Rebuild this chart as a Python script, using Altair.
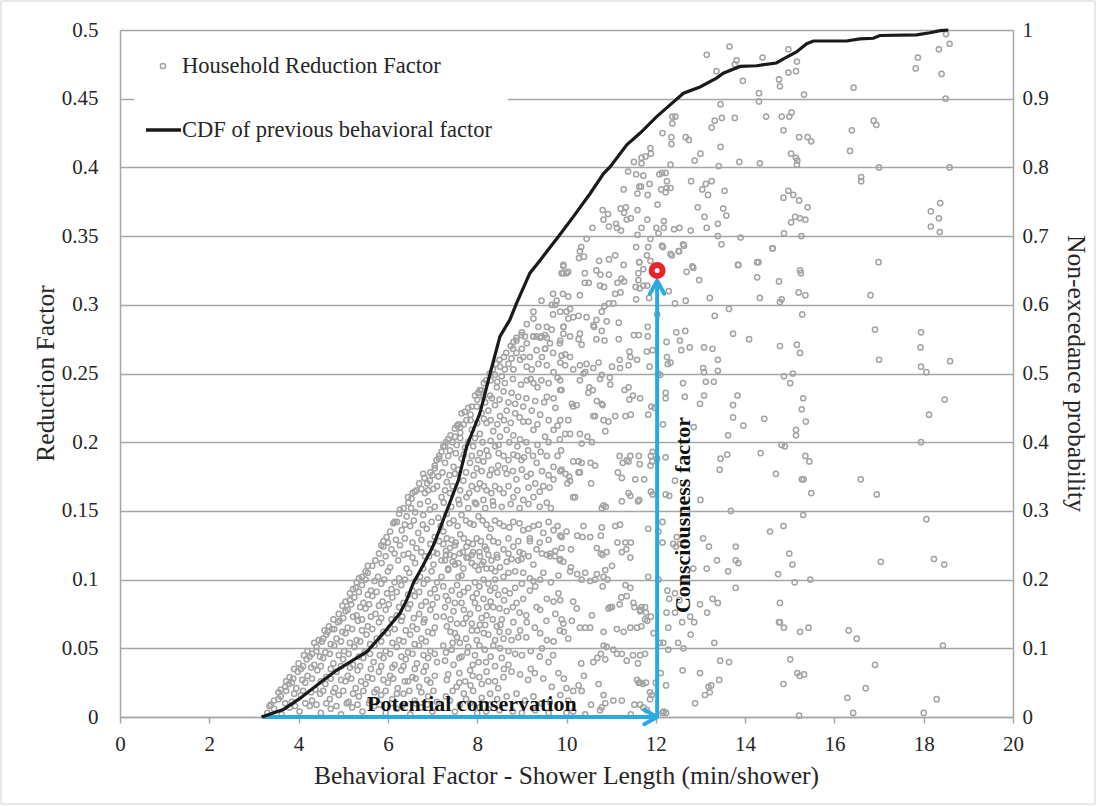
import altair as alt
import pandas as pd

# ---------------- CDF of previous behavioral factor (right axis) ----------------
cdf_x = [3.17, 3.66, 4.03, 4.48, 4.85, 5.23, 5.53, 5.9, 6.27, 6.42, 6.57, 6.79, 7.02, 7.24,
         7.47, 7.58, 7.76, 8.06, 8.29, 8.51, 8.73, 8.88, 9.18, 9.41, 9.85, 10.15, 10.53,
         10.83, 10.98, 11.35, 11.65, 12.02, 12.32, 12.62, 12.99, 13.36, 13.51, 13.89, 14.26,
         14.7, 14.86, 15.15, 15.38, 15.53, 16.27, 16.57, 16.87, 17.02, 17.84, 18.14, 18.37, 18.55]
cdf_p = [0, 0.011, 0.027, 0.05, 0.068, 0.083, 0.095, 0.122, 0.151, 0.17, 0.195, 0.221, 0.25,
         0.287, 0.326, 0.345, 0.393, 0.442, 0.5, 0.554, 0.578, 0.602, 0.646, 0.665, 0.702,
         0.728, 0.762, 0.791, 0.801, 0.833, 0.85, 0.874, 0.891, 0.908, 0.917, 0.93, 0.937,
         0.947, 0.948, 0.952, 0.958, 0.968, 0.98, 0.984, 0.984, 0.987, 0.988, 0.992, 0.993,
         0.996, 0.999, 1.0]

# ---------------- Household reduction factor (x = shower length, y = reduction) ----------------
pts_low_left = [
    (3.3,0.003),(3.45,0.006),(3.62,0.002),(3.8,0.007),(4.02,0.004),(4.25,0.008),(4.5,0.003),(4.72,0.006),
    (4.95,0.002),(5.2,0.007),(5.43,0.004),(5.7,0.008),(5.95,0.003),(6.2,0.006),(6.5,0.002),(6.75,0.007),(7.0,0.004),
    (3.45,0.012),(3.6,0.015),(3.85,0.011),(4.05,0.016),(4.3,0.012),(4.48,0.017),(4.7,0.013),(4.9,0.016),
    (5.12,0.011),(5.35,0.015),(5.6,0.012),(5.85,0.016),(6.1,0.013),(6.35,0.017),(6.6,0.012),(6.9,0.015),(7.1,0.011),
    (3.6,0.02),(3.78,0.024),(3.95,0.021),(4.15,0.025),(4.38,0.02),(4.6,0.024),(4.82,0.021),(5.05,0.026),
    (5.28,0.021),(5.5,0.024),(5.75,0.02),(6.0,0.025),(6.22,0.021),(6.45,0.026),(6.7,0.022),(6.95,0.025),
    (3.8,0.029),(3.98,0.033),(4.2,0.03),(4.42,0.034),(4.62,0.029),(4.85,0.033),(5.1,0.03),(5.32,0.034),
    (5.55,0.029),(5.8,0.033),(6.05,0.03),(6.3,0.034),(6.55,0.029),(6.8,0.033),(7.05,0.03),
    (4.0,0.039),(4.18,0.042),(4.35,0.038),(4.55,0.043),(4.78,0.039),(5.0,0.042),(5.22,0.038),(5.45,0.043),
    (5.68,0.04),(5.9,0.043),(6.15,0.038),(6.4,0.042),(6.65,0.039),(6.9,0.043),(7.1,0.04),
    (4.2,0.048),(4.4,0.051),(4.6,0.047),(4.8,0.052),(5.02,0.048),(5.25,0.051),(5.48,0.047),(5.7,0.052),
    (5.95,0.048),(6.2,0.051),(6.45,0.047),(6.7,0.052),(6.95,0.048),
    (4.45,0.056),(4.62,0.06),(4.85,0.057),(5.05,0.061),(5.3,0.056),(5.52,0.06),(5.75,0.057),(6.0,0.061),
    (6.25,0.056),(6.5,0.06),(6.75,0.057),(7.0,0.061),
    (4.68,0.066),(4.88,0.069),(5.1,0.065),(5.33,0.07),(5.55,0.066),(5.8,0.069),(6.05,0.065),(6.3,0.07),
    (6.55,0.066),(6.8,0.069),(7.05,0.065),
    (4.9,0.075),(5.1,0.078),(5.3,0.074),(5.5,0.079),(5.72,0.075),(5.95,0.078),(6.2,0.074),(6.45,0.079),
    (6.7,0.075),(6.95,0.078),
    (5.05,0.084),(5.25,0.087),(5.45,0.083),(5.65,0.088),(5.88,0.084),(6.1,0.087),(6.35,0.083),(6.6,0.088),
    (6.85,0.084),(7.1,0.087),
    (5.22,0.093),(5.42,0.096),(5.62,0.092),(5.85,0.097),(6.08,0.093),(6.3,0.096),(6.55,0.092),(6.8,0.097),(7.05,0.093),
    (5.35,0.101),(5.55,0.105),(5.78,0.102),(6.0,0.106),(6.25,0.101),(6.48,0.105),(6.72,0.102),(6.98,0.106),
    (5.55,0.11),(5.72,0.114),(5.8,0.119),(5.85,0.125),
]

pts_low_left_fill = [
    (3.38,0.009),(3.7,0.01),(3.92,0.008),(4.15,0.01),(4.4,0.009),(4.62,0.01),(4.85,0.008),(5.08,0.01),
    (5.32,0.009),(5.58,0.01),(5.82,0.009),(6.08,0.01),(6.32,0.008),(6.62,0.01),(6.88,0.009),
    (3.55,0.018),(3.72,0.019),(3.9,0.017),(4.1,0.019),(4.28,0.018),(4.55,0.019),(4.78,0.018),(5.0,0.019),
    (5.22,0.017),(5.45,0.019),(5.7,0.018),(5.95,0.019),(6.2,0.017),(6.48,0.019),(6.75,0.018),(7.02,0.019),
    (3.72,0.026),(3.88,0.028),(4.08,0.027),(4.3,0.028),(4.5,0.026),(4.72,0.028),(4.95,0.027),(5.18,0.028),
    (5.4,0.026),(5.65,0.028),(5.9,0.027),(6.12,0.028),(6.38,0.026),(6.62,0.028),(6.88,0.027),
    (3.9,0.035),(4.1,0.037),(4.28,0.036),(4.5,0.037),(4.72,0.035),(4.95,0.037),(5.15,0.036),(5.38,0.037),
    (5.62,0.035),(5.85,0.037),(6.1,0.036),(6.35,0.037),(6.6,0.035),(6.85,0.037),
    (4.12,0.045),(4.3,0.046),(4.48,0.044),(4.7,0.046),(4.9,0.045),(5.12,0.046),(5.35,0.044),(5.6,0.046),
    (5.82,0.045),(6.05,0.046),(6.3,0.044),(6.55,0.046),(6.8,0.045),(7.05,0.046),
    (4.35,0.054),(4.52,0.055),(4.72,0.053),(4.95,0.055),(5.15,0.054),(5.38,0.055),(5.6,0.053),(5.85,0.055),
    (6.1,0.054),(6.35,0.055),(6.6,0.053),(6.85,0.055),
    (4.58,0.063),(4.75,0.064),(4.98,0.062),(5.2,0.064),(5.42,0.063),(5.65,0.064),(5.9,0.062),(6.15,0.064),
    (6.4,0.063),(6.65,0.064),(6.9,0.062),
    (4.78,0.071),(5.0,0.072),(5.22,0.073),(5.42,0.071),(5.62,0.073),(5.85,0.072),(6.08,0.071),(6.32,0.073),
    (6.58,0.072),(6.82,0.071),(7.08,0.073),
    (4.98,0.081),(5.18,0.082),(5.38,0.08),(5.58,0.082),(5.8,0.081),(6.02,0.082),(6.25,0.08),(6.5,0.082),
    (6.75,0.081),(7.0,0.082),
    (5.15,0.09),(5.35,0.091),(5.55,0.089),(5.75,0.091),(5.98,0.09),(6.2,0.091),(6.45,0.089),(6.7,0.091),(6.95,0.09),
    (5.3,0.098),(5.5,0.1),(5.7,0.099),(5.92,0.1),(6.15,0.098),(6.38,0.1),(6.62,0.099),(6.88,0.1),(7.1,0.098),
    (3.35,0.008),(3.55,0.013),(3.7,0.022),(3.85,0.025),(4.05,0.035),(4.25,0.044),(4.4,0.048),(4.55,0.057),
    (4.65,0.062),(4.8,0.064),(4.92,0.07),(5.05,0.077),(5.15,0.085),(5.28,0.094),(5.42,0.102),(5.5,0.106),
    (5.65,0.11),(5.9,0.128),(6.05,0.135),(6.15,0.142),(6.25,0.148),
]

pts_mid_upper = [
    (8.88,0.274),(8.99,0.278),(9.11,0.272),(9.26,0.277),(9.41,0.276),(9.52,0.278),(9.63,0.272),(9.52,0.268),
    (9.85,0.272),(8.88,0.265),(8.77,0.261),(8.7,0.257),(8.96,0.26),(9.11,0.255),(9.22,0.253),(9.37,0.257),
    (9.56,0.256),(9.71,0.251),(9.89,0.263),(8.51,0.255),(8.62,0.253),(8.81,0.253),(9.03,0.262),(9.33,0.267),
    (8.4,0.249),(8.55,0.248),
    (8.06,0.238),(8.14,0.233),(8.29,0.234),(8.44,0.24),(8.59,0.237),(8.77,0.236),(8.92,0.233),(9.11,0.245),
    (9.26,0.243),(9.44,0.245),(9.56,0.233),(9.71,0.232),(9.89,0.238),(7.99,0.226),(8.1,0.221),(8.25,0.223),
    (8.4,0.227),(8.51,0.219),(8.66,0.223),(8.85,0.221),(9.03,0.226),(9.22,0.223),(9.41,0.22),(9.03,0.215),
    (9.26,0.209),(9.52,0.204),(9.71,0.209),(9.85,0.202),(7.65,0.221),(7.76,0.216),(7.62,0.211),(7.88,0.209),
    (8.06,0.206),(8.21,0.214),(8.36,0.208),(8.51,0.204),(8.66,0.209),(8.81,0.205),(7.5,0.204),(7.35,0.202),(8.96,0.202),
    (7.24,0.197),(7.39,0.194),(7.54,0.198),(7.73,0.196),(7.91,0.197),(8.06,0.192),(8.21,0.194),(8.4,0.197),
    (8.59,0.19),(8.81,0.191),(8.99,0.187),(9.14,0.194),(9.33,0.185),(9.56,0.19),(9.71,0.182),(9.89,0.18),
    (7.09,0.187),(7.28,0.185),(7.47,0.182),(7.65,0.188),(7.84,0.185),(7.99,0.181),(8.14,0.186),(8.32,0.18),
    (8.47,0.183),(8.66,0.177),(8.88,0.173),(9.11,0.175),(9.3,0.17),(9.48,0.168),(9.71,0.173),
    (6.79,0.177),(6.94,0.172),(7.13,0.175),(7.32,0.171),(7.5,0.177),(7.69,0.172),(7.88,0.168),(8.06,0.17),
    (8.21,0.165),(8.4,0.168),(8.59,0.163),(8.81,0.16),(9.03,0.158),(9.26,0.16),(9.56,0.156),
    (6.64,0.165),(6.83,0.163),(7.02,0.166),(7.2,0.16),(7.39,0.163),(7.58,0.158),(7.76,0.16),(7.95,0.156),
    (8.14,0.158),(8.36,0.154),(6.53,0.159),(6.46,0.156),
    (6.27,0.151),(6.42,0.146),(6.61,0.149),(6.79,0.147),(6.94,0.151),(7.13,0.145),(7.32,0.148),(7.47,0.143),
    (7.65,0.147),(7.84,0.141),(8.03,0.146),(8.21,0.14),(8.4,0.143),(8.59,0.139),(8.81,0.142),(9.03,0.136),
    (9.26,0.139),(9.48,0.134),(9.71,0.136),(9.89,0.131),(6.12,0.141),(6.31,0.136),(6.5,0.139),(6.68,0.134),
    (6.87,0.137),(7.05,0.131),(7.24,0.135),(7.43,0.129),(7.62,0.133),(7.8,0.127),(7.99,0.13),(8.17,0.124),
    (8.36,0.128),(8.59,0.122),(8.81,0.124),(9.03,0.119),(9.33,0.122),(9.63,0.117),(5.97,0.131),(5.9,0.124),
    (6.08,0.122),(6.27,0.125),(6.46,0.119),(6.64,0.123),(6.83,0.117),(7.02,0.12),(7.2,0.114),(7.39,0.118),
    (7.58,0.112),(7.76,0.116),(7.95,0.11),(8.14,0.113),(8.32,0.108),(5.86,0.112),(6.05,0.109),(6.23,0.114),
    (6.42,0.108),(6.61,0.112),(6.79,0.108),(7.02,0.111),(7.35,0.108),
]

pts_mid_upper_fill = [
    (5.95,0.117),(6.15,0.119),(6.35,0.118),(6.55,0.116),(6.75,0.12),(6.92,0.117),(7.1,0.119),(7.3,0.121),
    (7.48,0.117),(7.68,0.12),(7.88,0.118),(8.05,0.12),(8.25,0.118),(8.45,0.116),(8.7,0.119),(8.95,0.12),
    (9.15,0.117),(9.45,0.119),(9.75,0.121),
    (6.0,0.127),(6.18,0.129),(6.38,0.13),(6.55,0.127),(6.75,0.129),(6.95,0.126),(7.15,0.128),(7.32,0.13),
    (7.52,0.127),(7.7,0.13),(7.9,0.126),(8.08,0.128),(8.27,0.131),(8.47,0.127),(8.7,0.13),(8.92,0.128),
    (9.18,0.13),(9.4,0.127),(9.6,0.129),
    (6.2,0.142),(6.38,0.14),(6.58,0.143),(6.78,0.14),(6.98,0.142),(7.18,0.139),(7.38,0.141),(7.56,0.139),
    (7.75,0.143),(7.92,0.14),(8.12,0.143),(8.3,0.137),(8.5,0.141),(8.72,0.138),(8.95,0.141),(9.15,0.137),
    (9.38,0.14),(9.6,0.142),(9.8,0.139),
    (6.35,0.152),(6.52,0.152),(6.72,0.155),(6.9,0.157),(7.05,0.153),(7.25,0.156),(7.42,0.153),(7.6,0.155),
    (7.8,0.152),(7.98,0.155),(8.18,0.152),(8.35,0.157),(8.55,0.153),(8.75,0.155),(8.95,0.152),(9.15,0.155),
    (9.4,0.153),(9.65,0.152),
    (6.6,0.164),(6.75,0.166),(6.9,0.165),(7.1,0.168),(7.28,0.165),(7.45,0.168),(7.62,0.165),(7.82,0.163),
    (8.0,0.166),(8.15,0.168),(8.32,0.163),(8.5,0.166),(8.7,0.168),(8.9,0.165),(9.15,0.167),(9.4,0.164),(9.62,0.167),
    (6.95,0.178),(7.05,0.181),(7.22,0.178),(7.38,0.176),(7.58,0.18),(7.75,0.178),(7.92,0.176),(8.1,0.179),
    (8.28,0.176),(8.45,0.178),(8.62,0.181),(8.8,0.179),(9.0,0.18),(9.2,0.177),(9.45,0.179),(9.6,0.176),
    (7.15,0.19),(7.35,0.19),(7.52,0.192),(7.7,0.191),(7.88,0.19),(8.02,0.187),(8.25,0.19),(8.48,0.192),
    (8.7,0.187),(8.9,0.19),(9.05,0.189),(9.25,0.19),(9.42,0.193),(9.8,0.19),
    (7.3,0.2),(7.45,0.2),(7.62,0.203),(7.8,0.2),(7.95,0.203),(8.12,0.2),(8.3,0.201),(8.48,0.198),(8.72,0.2),
    (8.9,0.197),(9.1,0.2),(9.35,0.198),(9.6,0.2),
    (7.55,0.212),(7.7,0.213),(7.85,0.216),(8.0,0.214),(8.15,0.217),(8.3,0.216),(8.45,0.213),(8.6,0.216),
    (8.75,0.214),(8.95,0.218),(9.15,0.215),(9.35,0.213),(9.6,0.216),(9.8,0.212),
    (7.88,0.226),(8.0,0.231),(8.18,0.229),(8.33,0.232),(8.5,0.231),(8.7,0.229),(8.85,0.228),(9.1,0.232),
    (9.3,0.23),(9.5,0.229),(9.75,0.225),
    (8.15,0.243),(8.3,0.245),(8.45,0.244),(8.62,0.243),(8.8,0.246),(8.98,0.242),(9.2,0.246),(9.35,0.24),
    (9.6,0.243),(9.8,0.247),
    (8.6,0.262),(8.8,0.268),(9.0,0.268),(9.18,0.262),(9.45,0.262),(9.7,0.265),
    (6.45,0.16),(6.55,0.163),(6.7,0.17),(6.82,0.174),(6.88,0.17),(7.0,0.176),(7.05,0.183),(7.15,0.188),
    (7.2,0.193),(7.28,0.197),(7.4,0.205),(7.5,0.21),(7.58,0.213),(7.62,0.207),(7.72,0.222),(7.8,0.225),
    (7.85,0.22),(7.95,0.234),(8.02,0.236),(8.1,0.238),(8.2,0.245),(8.28,0.25),(8.35,0.253),(8.42,0.257),
    (8.5,0.26),(8.65,0.265),(8.75,0.27),
]

pts_ridge = [
    (9.93,0.329),(9.89,0.323),(10.0,0.323),(9.7,0.308),(9.78,0.303),(9.75,0.3),(9.44,0.303),(9.67,0.3),
    (9.26,0.295),(9.26,0.29),(9.37,0.284),(9.56,0.284),(9.67,0.282),(9.7,0.293),(9.93,0.284),(9.93,0.279),
    (10.04,0.29),(9.11,0.286),(9.0,0.28),(8.88,0.276),(8.81,0.273),(9.07,0.277),(9.26,0.277),(9.33,0.277),
    (9.44,0.277),(9.56,0.276),(9.52,0.268),
]

pts_mid_lower = [
    (7.24,0.126),(7.39,0.123),(7.5,0.125),(7.61,0.119),(7.76,0.124),(7.91,0.12),(8.06,0.117),(8.21,0.122),
    (8.32,0.114),(8.44,0.118),(8.51,0.109),(8.66,0.113),(8.77,0.115),(8.92,0.114),(8.99,0.115),(8.85,0.106),
    (8.7,0.105),(8.59,0.102),(8.4,0.106),(8.21,0.108),(8.03,0.107),(7.88,0.112),(7.69,0.108),(7.5,0.111),
    (7.35,0.107),(7.28,0.114),(7.2,0.102),(7.58,0.102),(8.14,0.1),(9.26,0.111),(9.18,0.128),(9.56,0.118),
    (9.63,0.119),(9.74,0.117),(9.85,0.114),(9.82,0.103),(9.41,0.1),(9.48,0.105),(9.18,0.101),(9.03,0.105),(9.26,0.099),
    (7.24,0.095),(7.43,0.092),(7.61,0.089),(7.8,0.094),(7.99,0.09),(8.14,0.086),(8.29,0.092),(8.47,0.089),
    (8.62,0.092),(8.73,0.09),(8.88,0.083),(9.03,0.086),(9.18,0.092),(9.33,0.08),(9.41,0.078),(9.56,0.086),
    (9.71,0.084),(9.82,0.09),(7.28,0.08),(7.47,0.077),(7.65,0.083),(7.84,0.075),(8.03,0.079),(8.21,0.074),
    (8.36,0.08),(8.55,0.071),(8.66,0.077),(8.81,0.069),(8.96,0.063),(9.11,0.069),(9.29,0.065),(9.41,0.061),
    (9.56,0.056),(9.71,0.055),(9.85,0.063),(7.32,0.066),(7.5,0.061),(7.69,0.068),(7.88,0.063),(8.06,0.067),
    (8.25,0.06),(8.44,0.066),(8.59,0.057),(8.77,0.056),(8.92,0.058),(7.24,0.052),(7.43,0.049),(7.61,0.054),
    (7.8,0.051),(7.99,0.056),(8.17,0.049),(8.36,0.052),(8.51,0.05),(8.7,0.048),
    (7.28,0.041),(7.47,0.038),(7.65,0.044),(7.84,0.034),(8.03,0.04),(8.21,0.033),(8.4,0.037),(8.59,0.029),
    (8.77,0.033),(8.96,0.031),(9.14,0.027),(9.29,0.032),(9.48,0.028),(9.67,0.022),(9.82,0.032),(7.32,0.027),
    (7.54,0.022),(7.73,0.026),(7.91,0.019),(8.1,0.024),(8.29,0.017),(8.47,0.021),(8.66,0.015),(8.88,0.017),
    (9.07,0.012),(9.26,0.015),(9.44,0.01),(9.63,0.011),(7.39,0.012),(7.61,0.009),(7.84,0.01),(8.06,0.007),(8.29,0.009),
    (7.3,0.118),(7.45,0.113),(7.65,0.103),(7.8,0.116),(7.95,0.098),(8.1,0.111),(8.25,0.097),(8.4,0.1),
    (7.35,0.085),(7.55,0.096),(7.7,0.078),(7.95,0.083),(8.1,0.072),(8.3,0.084),(8.5,0.079),(7.4,0.071),
    (7.55,0.058),(7.75,0.057),(7.95,0.045),(8.15,0.061),(8.3,0.044),(8.5,0.062),(7.35,0.031),(7.6,0.032),
    (7.85,0.023),(8.05,0.029),(8.4,0.026),(7.5,0.004),(7.7,0.017),(8.0,0.003),(8.2,0.004),(8.5,0.005),
    (8.8,0.004),(9.0,0.003),(9.3,0.005),(9.6,0.003),(8.7,0.038),(8.85,0.046),(9.0,0.045),(9.2,0.048),
    (9.4,0.044),(9.6,0.04),(9.1,0.074),(9.3,0.095),(9.55,0.07),(9.65,0.098),(9.75,0.075),(9.0,0.097),(8.85,0.094),
    (7.3,0.015),(7.45,0.019),(7.6,0.025),(7.75,0.013),(7.9,0.03),(8.1,0.014),(8.25,0.026),(8.45,0.013),
    (8.6,0.035),(7.3,0.047),(7.45,0.054),(7.6,0.043),(7.78,0.047),(7.9,0.038),(8.05,0.052),(8.2,0.04),
    (8.4,0.056),(8.55,0.043),(7.25,0.073),(7.4,0.062),(7.55,0.068),(7.75,0.072),(7.88,0.068),(8.0,0.063),
    (8.18,0.067),(8.35,0.071),(8.52,0.067),(8.7,0.062),(7.3,0.088),(7.5,0.083),(7.7,0.091),(7.9,0.087),
    (8.05,0.095),(8.22,0.08),(8.4,0.094),(8.6,0.085),(8.8,0.08),(8.95,0.076),(9.1,0.058),(9.2,0.035),
    (9.45,0.05),(9.7,0.045),
]

pts_right_center = [
    (10.41,0.323),(10.67,0.325),(10.76,0.322),(10.95,0.322),(10.41,0.316),(10.5,0.316),(10.75,0.314),(10.84,0.313),
    (11.14,0.316),(11.23,0.319),(11.29,0.317),(11.09,0.308),(11.21,0.309),(11.55,0.313),(11.64,0.312),(11.72,0.314),
    (11.81,0.314),(11.61,0.318),(11.61,0.323),(11.72,0.326),(11.63,0.331),(10.3,0.307),(11.56,0.304),(10.95,0.301),
    (11.05,0.301),(10.85,0.299),(10.79,0.295),(10.45,0.291),(10.67,0.289),(10.6,0.285),(10.62,0.284),(10.9,0.288),
    (11.17,0.287),(10.3,0.279),(10.79,0.281),(11.51,0.278),(11.62,0.278),(11.82,0.284),(11.17,0.275),(10.67,0.275),
    (10.85,0.274),(12.03,0.293),(12.29,0.31),(12.67,0.303),(11.85,0.305),(12.43,0.301),(12.69,0.324),(12.82,0.328),
    (12.97,0.318),(13.21,0.305),(13.32,0.292),(13.64,0.297),(13.84,0.329),(14.27,0.331),(14.27,0.32),(14.33,0.305),
    (14.61,0.341),(14.76,0.317),(12.46,0.28),(12.54,0.274),(12.66,0.281),(12.24,0.273),(11.82,0.277),(13.73,0.279),
    (14.09,0.275),(13.08,0.269),(13.27,0.268),(12.76,0.269),(12.33,0.337),(12.51,0.339),(12.61,0.344),(12.14,0.343),
    (11.88,0.348),(11.83,0.342),
    (9.93,0.328),(10.04,0.324),(9.93,0.323),(9.92,0.308),(10.04,0.306),(9.86,0.295),(10.0,0.295),(10.08,0.297),
    (9.93,0.284),(9.86,0.274),(10.08,0.277),(10.15,0.291),(10.27,0.292),(10.27,0.275),(10.34,0.271),
    (9.97,0.264),(9.86,0.258),(10.08,0.262),(9.97,0.256),(10.15,0.253),(10.3,0.256),(10.45,0.257),(10.6,0.254),
    (10.72,0.258),(11.02,0.255),(11.2,0.254),(11.39,0.256),(10.42,0.251),(10.38,0.25),(11.58,0.26),(11.8,0.266),
    (11.93,0.267),(11.86,0.255),(11.19,0.26),(11.41,0.266),(11.43,0.262),(12.57,0.267),(12.25,0.262),(12.33,0.258),
    (12.27,0.257),(12.1,0.249),(12.05,0.25),(13.39,0.26),(13.39,0.252),(13.06,0.254),(13.08,0.251),(13.12,0.244),
    (13.3,0.244),(12.61,0.243),(12.22,0.236),(12.22,0.232),(12.65,0.233),(13.08,0.234),(13.83,0.234),(12.99,0.228),
    (12.16,0.213),(12.85,0.211),(13.73,0.227),(13.73,0.218),(13.96,0.212),(13.62,0.205),(14.43,0.217),(14.35,0.192),
    (14.69,0.177),(13.45,0.188),(13.43,0.18),(13.6,0.191),(12.43,0.172),(13.0,0.158),(13.68,0.15),(12.22,0.189),
    (12.03,0.188),(11.89,0.19),(11.92,0.186),(11.88,0.183),(11.93,0.193),(11.43,0.19),(11.39,0.186),(11.62,0.19),
    (11.64,0.184),(11.19,0.19),(11.26,0.185),(11.35,0.187),(11.54,0.173),(11.24,0.174),(11.15,0.178),(11.74,0.173),
    (11.89,0.164),(11.93,0.162),(11.39,0.163),(11.43,0.161),(11.24,0.157),(11.6,0.157),(11.63,0.158),(10.83,0.154),
    (10.88,0.153),(10.79,0.152),(12.22,0.162),(12.3,0.161),(10.55,0.17),(10.15,0.186),(10.27,0.186),(10.34,0.185),
    (10.54,0.185),(10.64,0.183),(9.98,0.177),(10.06,0.175),(10.27,0.178),(10.3,0.178),(9.88,0.194),(10.02,0.17),
    (10.08,0.172),(10.15,0.16),(10.19,0.16),(9.86,0.216),(10.04,0.216),(10.08,0.206),(9.97,0.206),(10.34,0.199),
    (10.57,0.2),(10.47,0.204),(10.87,0.208),(10.94,0.215),(10.6,0.219),(10.64,0.219),(10.83,0.216),(11.32,0.219),
    (11.44,0.22),(10.68,0.23),(10.59,0.238),(10.49,0.236),(10.51,0.24),(10.12,0.228),(10.15,0.226),(10.23,0.227),
    (10.79,0.228),(10.81,0.227),(10.98,0.242),(11.3,0.238),(11.39,0.24),(11.49,0.234),(11.65,0.232),(11.41,0.231),
    (11.09,0.219),(11.9,0.226),(11.97,0.225),(11.83,0.22),(9.86,0.238),(9.86,0.245),(10.3,0.245),(10.3,0.206),
    (9.86,0.179),(10.97,0.247),(10.75,0.246),(10.79,0.249),
    (10.38,0.139),(10.79,0.138),(11.09,0.139),(11.2,0.14),(10.0,0.135),(9.86,0.132),(10.24,0.132),(10.36,0.131),
    (10.53,0.131),(10.77,0.132),(9.89,0.123),(10.1,0.122),(10.68,0.123),(10.77,0.119),(10.81,0.118),(10.9,0.12),
    (11.14,0.127),(11.32,0.127),(11.44,0.127),(11.34,0.122),(11.24,0.12),(11.43,0.116),(9.86,0.115),(9.93,0.113),
    (10.1,0.109),(10.08,0.106),(10.24,0.104),(10.42,0.105),(10.34,0.1),(10.53,0.099),(10.64,0.1),(10.83,0.102),
    (11.02,0.11),(10.87,0.107),(10.68,0.104),(10.92,0.1),(10.81,0.095),(10.94,0.079),(10.98,0.08),(11.02,0.08),
    (11.32,0.096),(11.43,0.094),(11.23,0.087),(11.35,0.088),(11.19,0.082),(11.5,0.083),(11.52,0.08),(11.65,0.078),
    (11.58,0.065),(11.43,0.065),(11.28,0.062),(11.13,0.064),(10.83,0.062),(10.53,0.065),(10.42,0.065),(10.3,0.065),
    (10.12,0.07),(9.93,0.068),(9.89,0.071),(10.04,0.057),(9.94,0.062),(10.23,0.079),(10.15,0.084),(9.86,0.085),
    (10.57,0.074),(10.9,0.051),(10.83,0.052),(11.05,0.049),(11.13,0.046),(11.24,0.046),(11.35,0.041),(11.49,0.045),
    (11.6,0.039),(10.33,0.039),(10.6,0.04),(10.69,0.043),(10.77,0.046),(10.87,0.042),(9.94,0.028),(10.0,0.021),
    (10.15,0.019),(10.27,0.023),(10.34,0.019),(10.39,0.03),(10.72,0.024),(10.83,0.016),(10.87,0.01),(10.75,0.005),
    (10.79,0.007),(11.05,0.012),(11.24,0.012),(11.44,0.002),(11.52,0.009),(10.42,0.002),(10.55,0.009),(10.04,0.012),
    (9.86,0.016),(11.58,0.027),(11.62,0.025),(10.0,0.003),(10.15,0.004),
    (11.83,0.137),(12.06,0.135),(12.15,0.142),(12.15,0.127),(12.47,0.131),(12.45,0.124),(12.54,0.126),(12.39,0.126),
    (13.06,0.13),(13.19,0.124),(13.79,0.124),(13.37,0.114),(13.14,0.108),(12.84,0.108),(13.62,0.106),(13.79,0.114),
    (13.85,0.112),(14.56,0.135),(14.74,0.104),(11.83,0.102),(12.06,0.1),(13.79,0.094),(12.26,0.092),(12.43,0.09),
    (12.3,0.086),(12.53,0.085),(12.99,0.082),(13.27,0.086),(13.15,0.076),(13.39,0.083),(12.24,0.076),(12.43,0.076),
    (12.59,0.069),(12.77,0.073),(12.86,0.069),(12.78,0.06),(12.28,0.065),(12.17,0.054),(12.09,0.054),(12.28,0.049),
    (12.5,0.054),(12.62,0.05),(13.31,0.054),(14.76,0.069),(11.68,0.066),(11.76,0.071),(11.89,0.073),(11.81,0.07),
    (11.95,0.061),(11.68,0.08),(11.76,0.08),(11.65,0.077),(11.78,0.076),(11.65,0.045),(11.76,0.046),(12.11,0.032),
    (12.23,0.023),(12.0,0.025),(11.65,0.025),(11.71,0.024),(11.78,0.025),(11.87,0.018),(11.91,0.016),(11.87,0.013),
    (11.65,0.009),(11.72,0.007),(11.8,0.005),(12.15,0.003),(12.23,0.003),(12.18,0.004),(12.6,0.034),(12.99,0.032),
    (13.44,0.041),(13.64,0.04),(13.42,0.027),(13.24,0.023),(13.18,0.022),(13.1,0.016),(13.21,0.018),(12.88,0.01),
]

pts_top = [
    (13.14,0.482),(13.65,0.488),(13.36,0.47),(13.81,0.478),(13.77,0.475),(13.95,0.463),(14.39,0.48),(14.76,0.464),
    (14.31,0.454),(14.31,0.448),(13.45,0.446),(13.25,0.429),(13.32,0.434),(13.48,0.436),(13.77,0.436),(14.47,0.437),
    (12.37,0.437),(12.44,0.437),(12.37,0.432),(12.15,0.425),(12.35,0.422),(12.35,0.417),(12.67,0.422),(12.74,0.42),
    (11.88,0.414),(11.89,0.41),(11.77,0.408),(11.68,0.407),(11.68,0.403),(11.51,0.404),(12.33,0.402),(13.45,0.415),
    (13.0,0.41),(12.87,0.405),(13.87,0.404),(14.33,0.403),(13.41,0.401),(11.38,0.397),(11.56,0.395),(11.72,0.394),
    (12.08,0.395),(12.14,0.396),(12.22,0.396),(12.25,0.39),(11.63,0.386),(11.67,0.386),(11.86,0.388),(11.28,0.384),
    (11.59,0.381),(11.82,0.38),(12.12,0.384),(12.24,0.385),(12.33,0.385),(12.22,0.382),(12.04,0.373),(12.79,0.39),
    (13.04,0.384),(13.12,0.388),(13.17,0.38),(13.25,0.39),(13.54,0.383),(10.81,0.369),(10.83,0.362),(10.93,0.366),
    (11.21,0.37),(11.29,0.367),(11.33,0.371),(11.59,0.369),(11.35,0.362),(11.44,0.363),(11.81,0.362),(10.58,0.356),
    (10.95,0.357),(11.11,0.359),(11.13,0.356),(11.22,0.354),(11.68,0.356),(11.59,0.351),(12.01,0.356),(12.06,0.352),
    (12.18,0.361),(12.18,0.356),(12.41,0.355),(12.53,0.356),(12.78,0.354),(12.94,0.371),(13.09,0.364),(13.14,0.356),
    (13.39,0.359),(13.51,0.37),(13.58,0.365),(13.39,0.35),(13.47,0.344),(13.9,0.349),(14.62,0.341),(10.45,0.348),
    (10.3,0.339),(10.33,0.342),(10.28,0.334),(10.39,0.335),(10.73,0.332),(10.95,0.333),(11.09,0.336),(11.28,0.329),
    (11.56,0.342),(11.63,0.331),(11.8,0.336),(11.88,0.332),(12.16,0.342),(12.36,0.336),(12.52,0.339),(12.63,0.343),
    (12.84,0.327),(13.85,0.329),(14.3,0.331),
]

pts_far_right = [
    (14.97,0.486),(15.16,0.477),(14.97,0.469),(15.14,0.47),(14.78,0.459),(15.32,0.453),(16.43,0.458),(17.87,0.48),
    (17.82,0.472),(18.34,0.486),(18.58,0.49),(18.4,0.468),(18.5,0.497),(18.49,0.45),(14.82,0.437),(14.99,0.437),
    (15.04,0.44),(14.86,0.427),(15.21,0.422),(15.4,0.422),(15.48,0.419),(15.03,0.41),(15.14,0.407),(15.17,0.405),
    (15.16,0.402),(16.39,0.427),(16.35,0.412),(16.88,0.434),(16.94,0.431),(17.0,0.4),(18.58,0.4),(16.6,0.393),
    (16.6,0.39),(14.97,0.383),(14.86,0.378),(15.08,0.38),(15.21,0.376),(15.4,0.371),(15.03,0.36),(15.12,0.364),
    (15.23,0.363),(15.35,0.362),(14.87,0.352),(15.26,0.35),(18.37,0.374),(18.16,0.368),(18.34,0.363),(18.16,0.357),
    (18.36,0.353),(16.99,0.331),(15.23,0.325),(15.25,0.323),(15.2,0.309),(15.35,0.307),(16.81,0.307),(14.82,0.304),
    (14.78,0.302),(15.28,0.293),(16.91,0.282),(17.94,0.28),(17.93,0.269),(17.0,0.26),(18.59,0.259),(17.94,0.255),
    (18.06,0.251),(14.78,0.27),(15.16,0.271),(15.23,0.265),(14.87,0.248),(15.07,0.25),(15.01,0.243),(15.3,0.232),
    (15.27,0.224),(15.36,0.215),(15.14,0.209),(15.14,0.205),(18.47,0.231),(18.12,0.22),(17.94,0.2),(14.82,0.198),
    (14.89,0.197),(15.35,0.19),(15.44,0.186),(15.27,0.173),(15.31,0.173),(15.48,0.163),(16.59,0.173),(16.95,0.162),
    (15.3,0.147),(14.86,0.139),(18.06,0.144),(14.99,0.119),(15.06,0.111),(17.04,0.113),(18.23,0.115),(18.46,0.111),
    (15.11,0.098),(15.46,0.1),(14.78,0.083),(14.78,0.069),(14.87,0.065),(15.23,0.062),(15.42,0.065),(16.32,0.063),
    (16.5,0.057),(18.43,0.052),(15.01,0.042),(15.17,0.032),(15.22,0.03),(15.32,0.031),(14.86,0.024),(16.91,0.038),
    (16.7,0.021),(16.29,0.014),(18.29,0.013),(16.42,0.003),(18.0,0.003),(15.21,0.001),
]

all_pts = (pts_low_left + pts_low_left_fill + pts_mid_upper + pts_mid_upper_fill + pts_ridge
           + pts_mid_lower + pts_right_center + pts_top + pts_far_right)
hh = pd.DataFrame(all_pts, columns=["x", "y"])
cdf = pd.DataFrame({"x": cdf_x, "p": cdf_p})

# Highlighted household and arrows
sel_x, sel_y = 12.03, 0.325
arrow_start_x = 3.2
arrow_tip_y = 0.3175

# ---------------- styles ----------------
FONT = "Liberation Serif"
GRID = "#a6a6a6"
TXT = "#262626"
BLUE = "#29abe2"
RED = "#e8232b"
PT = "#a3a3a3"

W, H = 893, 687
xscale = alt.Scale(domain=[0, 20], nice=False)
yscale = alt.Scale(domain=[0, 0.5], nice=False)
pscale = alt.Scale(domain=[0, 1], nice=False)

xaxis = alt.Axis(values=[0, 2, 4, 6, 8, 10, 12, 14, 16, 18, 20], grid=False, labelFlush=False,
                 title="Behavioral Factor - Shower Length (min/shower)",
                 tickSize=6, tickColor=GRID, tickWidth=1.5, labelPadding=10,
                 titleX=446, titleY=58, titleBaseline="middle", titleAlign="center")
yaxis = alt.Axis(values=[0, 0.05, 0.1, 0.15, 0.2, 0.25, 0.3, 0.35, 0.4, 0.45, 0.5], labelFlush=False,
                 format=".2~f", grid=True, ticks=False, tickSize=0, labelPadding=22,
                 title="Reduction Factor", titleAngle=270, titleX=-75, titleY=343,
                 titleBaseline="middle", titleAlign="center")
paxis = alt.Axis(values=[0, 0.1, 0.2, 0.3, 0.4, 0.5, 0.6, 0.7, 0.8, 0.9, 1.0], labelFlush=False,
                 format=".1~f", grid=False, ticks=False, tickSize=0, labelPadding=9, orient="right",
                 title="Non-excedance probability", titleAngle=90, titleX=62, titleY=343,
                 titleBaseline="middle", titleAlign="center")

X = alt.X("x:Q", scale=xscale, axis=xaxis)
Y = alt.Y("y:Q", scale=yscale, axis=yaxis)

points = alt.Chart(hh).mark_point(filled=False, size=27, strokeWidth=1.5, color=PT, opacity=1).encode(x=X, y=Y)

# legend box (decoration)
one = pd.DataFrame({"a": [0]})
leg_box = alt.Chart(one).mark_rect(fill="white", stroke=None).encode(
    x=alt.value(14), x2=alt.value(388), y=alt.value(6), y2=alt.value(128))
leg_pt = alt.Chart(one).mark_point(filled=False, size=27, strokeWidth=1.5, color=PT, opacity=1).encode(
    x=alt.value(43), y=alt.value(36))
leg_t1 = alt.Chart(one).mark_text(align="left", baseline="middle", font=FONT, fontSize=22.5, color=TXT).encode(
    x=alt.value(62), y=alt.value(36), text=alt.value("Household Reduction Factor"))
leg_ln = alt.Chart(one).mark_rule(color="#1a1a1a", strokeWidth=3.5).encode(
    x=alt.value(26), x2=alt.value(61), y=alt.value(100))
leg_t2 = alt.Chart(one).mark_text(align="left", baseline="middle", font=FONT, fontSize=22.5, color=TXT).encode(
    x=alt.value(62), y=alt.value(100), text=alt.value("CDF of previous behavioral factor"))

# arrows
harrow = alt.Chart(pd.DataFrame({"x": [arrow_start_x], "x2": [sel_x], "y": [0.0]})).mark_rule(
    color=BLUE, strokeWidth=4).encode(x=X, x2="x2:Q", y=Y)
varrow = alt.Chart(pd.DataFrame({"x": [sel_x], "y": [0.0], "y2": [arrow_tip_y]})).mark_rule(
    color=BLUE, strokeWidth=4).encode(x=X, y=Y, y2="y2:Q")
heads = pd.DataFrame({"x": [sel_x, sel_x], "y": [0.0, arrow_tip_y],
                      "s": ["M -1 -0.55 L 0 0 L -1 0.55", "M -0.55 1 L 0 0 L 0.55 1"]})
arrowheads = alt.Chart(heads).mark_point(filled=False, size=676, strokeWidth=4, color=BLUE, opacity=1,
                                         strokeCap="round", strokeJoin="round").encode(
    x=X, y=Y, shape=alt.Shape("s:N", scale=None))

sel = alt.Chart(pd.DataFrame({"x": [sel_x], "y": [sel_y]})).mark_point(
    filled=True, fill="white", stroke=RED, strokeWidth=6, size=121, opacity=1, fillOpacity=1).encode(x=X, y=Y)

ann = pd.DataFrame({"x": [7.88, 12.6], "y": [0.0095, 0.147], "t": ["Potential conservation", "Consciousness factor"]})
ann1 = alt.Chart(ann.iloc[[0]]).mark_text(font=FONT, fontSize=22, fontWeight="bold", color="#111111",
                                          align="center", baseline="middle").encode(x=X, y=Y, text="t:N")
ann2 = alt.Chart(ann.iloc[[1]]).mark_text(font=FONT, fontSize=22, fontWeight="bold", color="#111111",
                                          align="center", baseline="middle", angle=270).encode(x=X, y=Y, text="t:N")

cdf_line = alt.Chart(cdf).mark_line(color="#1a1a1a", strokeWidth=3.2).encode(
    x=X, y=alt.Y("p:Q", scale=pscale, axis=paxis))

border = alt.Chart(one).mark_rect(fill=None, stroke="#d0d0d0", strokeWidth=1).encode(
    x=alt.value(-119), x2=alt.value(975), y=alt.value(-29), y2=alt.value(774))

left_layer = alt.layer(points, leg_box, leg_pt, leg_t1, leg_ln, leg_t2, harrow, varrow, arrowheads, sel, ann1, ann2, border)

chart = alt.layer(left_layer, cdf_line).resolve_scale(y="independent").properties(
    width=W, height=H,
    padding={"left": 120, "top": 30, "right": 84, "bottom": 89},
    autosize=alt.AutoSizeParams(type="none"),
).configure_view(stroke=None).configure_axis(
    labelFont=FONT, labelFontSize=21, labelColor=TXT,
    titleFont=FONT, titleFontSize=25.5, titleFontWeight="normal", titleColor=TXT,
    domainColor=GRID, domainWidth=1.5, gridColor=GRID, gridWidth=1.5,
)

chart.save("out.html", embed_options={"renderer": "svg", "actions": False})
